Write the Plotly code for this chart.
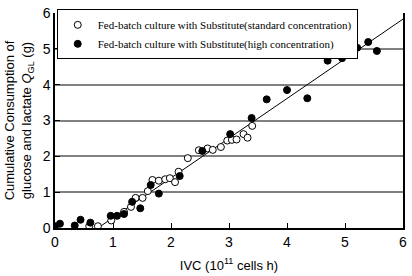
import plotly.graph_objects as go

# Fed-batch culture with Substitute (standard concentration) - open circles
std_x = [0.59, 0.74, 0.97, 1.19, 1.31, 1.39, 1.51, 1.60, 1.68, 1.79, 1.90, 1.98, 2.07, 2.13,
         2.29, 2.48, 2.63, 2.72, 2.86, 2.97, 3.05, 3.13, 3.25, 3.32, 3.40]
std_y = [0.05, 0.05, 0.21, 0.45, 0.59, 0.84, 0.84, 1.03, 1.34, 1.32, 1.36, 1.39, 1.28, 1.57,
         1.95, 2.17, 2.22, 2.18, 2.26, 2.44, 2.46, 2.47, 2.62, 2.52, 2.85]

# Fed-batch culture with Substitute (high concentration) - filled circles
high_x = [0.0, 0.085, 0.34, 0.44, 0.61, 0.96, 1.07, 1.19, 1.33, 1.47, 1.65, 1.79, 2.15,
          2.54, 3.02, 3.39, 3.65, 4.00, 4.35, 4.70, 4.95, 5.21, 5.40, 5.55]
high_y = [0.05, 0.12, 0.07, 0.23, 0.15, 0.34, 0.34, 0.39, 0.73, 0.55, 1.20, 0.96, 1.45,
          2.15, 2.62, 3.07, 3.59, 3.85, 3.62, 4.67, 4.74, 5.03, 5.19, 4.94]

# Regression line end points
fit_x = [0.74, 6.0]
fit_y = [0.0, 5.83]

x_ticks = [0, 1, 2, 3, 4, 5, 6]
y_ticks = [0, 1, 2, 3, 4, 5, 6]

fig = go.Figure()

fig.add_trace(go.Scatter(x=fit_x, y=fit_y, mode="lines",
                         line=dict(color="black", width=1),
                         showlegend=False, hoverinfo="skip"))

fig.add_trace(go.Scatter(x=std_x, y=std_y, mode="markers",
                         name="Fed-batch culture with Substitute(standard concentration)",
                         marker=dict(symbol="circle", size=7, color="white",
                                     line=dict(color="black", width=1))))

fig.add_trace(go.Scatter(x=high_x, y=high_y, mode="markers",
                         name="Fed-batch culture with Substitute(high concentration)",
                         marker=dict(symbol="circle", size=7, color="black",
                                     line=dict(color="black", width=1))))

fig.update_layout(
    width=412, height=276,
    margin=dict(l=55, r=5, t=9, b=45),
    paper_bgcolor="white", plot_bgcolor="white",
    font=dict(family="Liberation Sans, Arial", size=13, color="black"),
    legend=dict(
        x=0.005, y=1.017, xanchor="left", yanchor="top",
        bgcolor="white", bordercolor="black", borderwidth=1,
        font=dict(family="Times New Roman, Liberation Serif, serif", size=11, color="black"),
        itemwidth=30, tracegroupgap=0,
    ),
    xaxis=dict(
        range=[0, 6], tickvals=x_ticks, ticktext=[str(v) for v in x_ticks],
        ticks="inside", ticklen=5, tickcolor="black", tickwidth=1,
        showline=True, linecolor="black", linewidth=1.5,
        showgrid=False, zeroline=False,
        tickfont=dict(size=14),
        title=dict(text="IVC (10<sup>11</sup> cells h)", font=dict(size=13), standoff=12),
    ),
    yaxis=dict(
        range=[0, 6], tickvals=y_ticks, ticktext=[str(v) for v in y_ticks],
        ticks="inside", ticklen=5, tickcolor="black", tickwidth=1,
        showline=True, linecolor="black", linewidth=1.5, mirror=True,
        showgrid=True, gridcolor="#808080", gridwidth=1.5, zeroline=False,
        tickfont=dict(size=14),
        title=dict(text="Cumulative Consumption of<br>glucose and lactate <i>Q</i><sub>GL</sub> (g)",
                   font=dict(size=13), standoff=8),
    ),
)

fig.write_html("out.html",
               config={"displayModeBar": False},
               post_script="document.body.style.margin='0px';document.body.style.overflow='hidden';")
